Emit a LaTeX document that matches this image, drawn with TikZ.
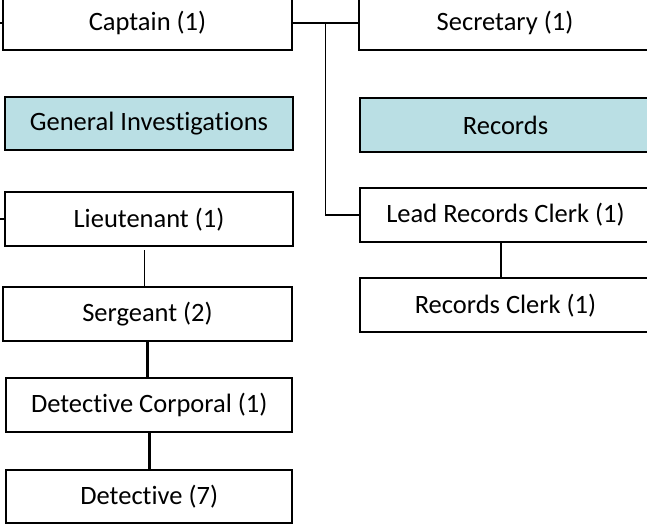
\documentclass[tikz,border=0pt]{standalone}
\usepackage{fontspec}
\setmainfont{Carlito}[Ligatures={NoCommon,NoRare,NoContextual}]
\usetikzlibrary{calc}
\definecolor{boxteal}{RGB}{186,223,228}
\begin{document}
\begin{tikzpicture}[x=1pt,y=-1pt,
  box/.style={draw=black, line width=2pt, rectangle, inner sep=0pt, minimum height=54pt, font=\fontsize{26.5}{30}\selectfont, fill=white},
  unit/.style={box, fill=boxteal},
  conn/.style={draw=black, line width=1.8pt},
  thickconn/.style={draw=black, line width=2.6pt}]
\useasboundingbox (0,0) rectangle (647,525);
\clip (0,0) rectangle (647,525);
% left column
\node[box, minimum width=289pt, minimum height=54pt] (cap) at (147.5,23) {Captain (1)};
\node[unit, minimum width=288pt, minimum height=53.5pt] (gi) at (149,123.5) {General Investigations};
\node[box, minimum width=288pt, minimum height=53.5pt] (lt) at (149,219.2) {Lieutenant (1)};
\node[box, minimum width=289pt, minimum height=53.5pt] (sgt) at (147.5,314) {Sergeant (2)};
\node[box, minimum width=285.5pt, minimum height=53.5pt] (dc) at (149.2,405) {Detective Corporal (1)};
\node[box, minimum width=285.5pt, minimum height=53pt] (det) at (149.2,496.7) {Detective (7)};
% right column
\node[box, minimum width=292pt, minimum height=54pt] (sec) at (505,23) {Secretary (1)};
\node[unit, minimum width=291pt, minimum height=54pt] (rec) at (505.5,125) {Records};
\node[box, minimum width=291pt, minimum height=53.5pt] (lrc) at (505.5,215) {Lead Records Clerk (1)};
\node[box, minimum width=291pt, minimum height=54pt] (rc) at (505.5,305.3) {Records Clerk (1)};
% free ends
\coordinate (capin) at (0,23);
\coordinate (ltin) at (0,219.2);
\coordinate (j) at ($(cap.east)!0.5!(sec.west)$);
% connectors
\draw[conn] (capin) -- (cap.west);
\draw[conn] (ltin) -- (lt.west);
\draw[conn, line width=2pt] (cap.east) -- (sec.west);
\draw[conn] (j) |- (lrc.west);
\draw[conn] ([xshift=-3pt]sgt.north) -- ++(0,-36.5);
\draw[thickconn] (sgt.south) -- (sgt.south |- dc.north);
\draw[thickconn] (dc.south) -- (dc.south |- det.north);
\draw[conn, line width=2pt] ([xshift=-4.5pt]lrc.south) -- ([xshift=-4.5pt]lrc.south |- rc.north);
\end{tikzpicture}
\end{document}
